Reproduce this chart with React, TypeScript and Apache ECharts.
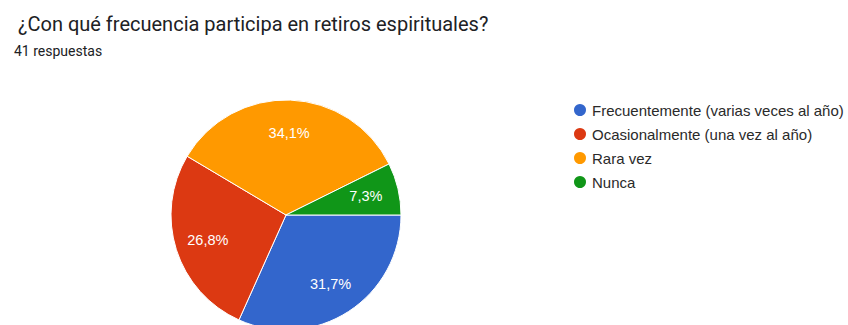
import React, { useEffect, useRef } from "react";
import * as echarts from "echarts";

const categories = [
  "Frecuentemente (varias veces al año)",
  "Ocasionalmente (una vez al año)",
  "Rara vez",
  "Nunca",
];
const counts = [13, 11, 14, 3];
const colors = ["#3366cc", "#dc3912", "#ff9900", "#109618"];
const titleText = "¿Con qué frecuencia participa en retiros espirituales?";
const subText = "41 respuestas";

export default function App() {
  const ref = useRef<HTMLDivElement>(null);
  useEffect(() => {
    if (!ref.current) return;
    const chart = echarts.init(ref.current, null, { renderer: "svg" });
    const total = counts.reduce((a, b) => a + b, 0);
    const data = categories.map((name, i) => ({
      name,
      value: counts[i],
      itemStyle: { color: colors[i] },
    }));
    chart.setOption({
      animation: false,
      backgroundColor: "#ffffff",
      title: [
        {
          text: titleText,
          left: 13,
          top: 9,
          textStyle: {
            fontFamily: "Roboto",
            fontSize: 20,
            fontWeight: "normal",
            color: "#202124",
          },
        },
        {
          text: subText,
          left: 9,
          top: 39,
          textStyle: {
            fontFamily: "Roboto",
            fontSize: 14,
            fontWeight: "normal",
            color: "#202124",
          },
        },
      ],
      legend: {
        orient: "vertical",
        left: 567,
        top: 97,
        icon: "circle",
        itemWidth: 14,
        itemHeight: 14,
        itemGap: 8,
        data: categories,
        textStyle: {
          fontFamily: "Liberation Sans",
          fontSize: 15,
          lineHeight: 16,
          color: "#2a2a2a",
          padding: [0, 0, 0, 0],
        },
      },
      series: [
        {
          type: "pie",
          center: [286, 215],
          radius: [0, 115],
          startAngle: 0,
          clockwise: true,
          data,
          label: { show: false },
          labelLine: { show: false },
          itemStyle: { borderColor: "#ffffff", borderWidth: 1 },
          emphasis: { disabled: true },
        },
        {
          type: "pie",
          center: [286, 215],
          radius: [0, 158],
          startAngle: 0,
          clockwise: true,
          silent: true,
          data: categories.map((name, i) => ({ name, value: counts[i] })),
          itemStyle: { color: "rgba(0,0,0,0)" },
          label: {
            show: true,
            position: "inside",
            color: "#ffffff",
            fontFamily: "Liberation Sans",
            fontSize: 14.5,
            formatter: (p: any) =>
              ((p.value / total) * 100).toFixed(1).replace(".", ",") + "%",
          },
          labelLine: { show: false },
          legendHoverLink: false,
          emphasis: { disabled: true },
        },
      ],
    });
    return () => chart.dispose();
  }, []);
  return (
    <div
      ref={ref}
      style={{ position: "fixed", left: 0, top: 0, width: 848, height: 325 }}
    />
  );
}
